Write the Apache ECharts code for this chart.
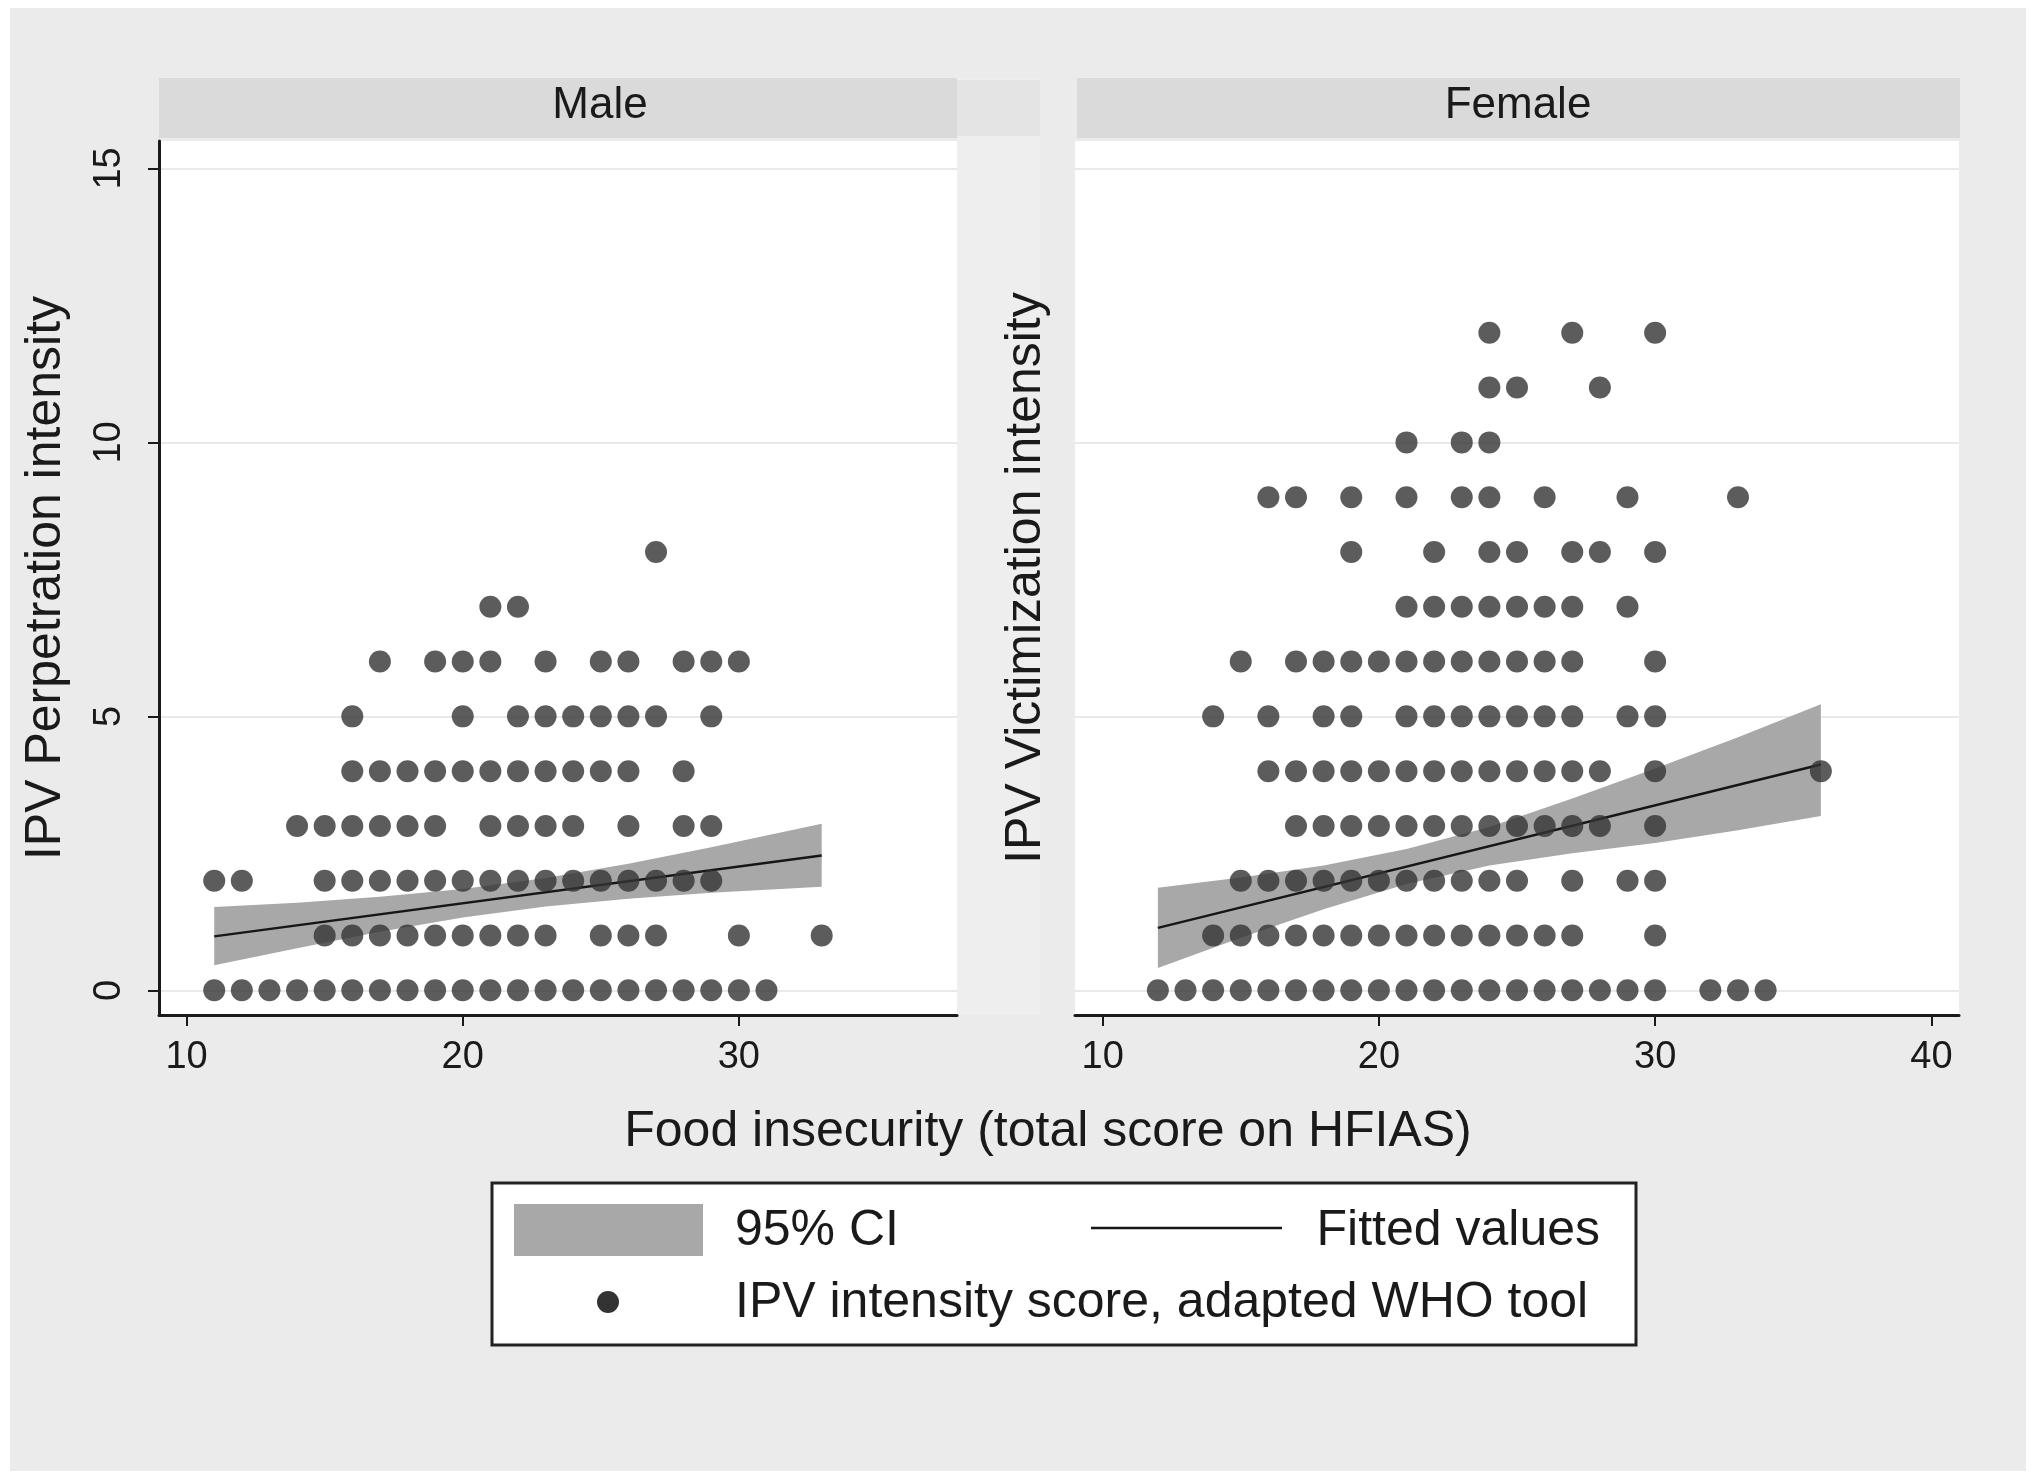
<!DOCTYPE html>
<html><head><meta charset="utf-8">
<script src="https://cdn.jsdelivr.net/npm/echarts@6/dist/echarts.min.js"></script>
<style>html,body{margin:0;padding:0;background:#fff}#c{width:2041px;height:1474px}</style>
</head><body><div id="c"></div>
<script>
// ---------- text ----------
const panelTitles = ['Male', 'Female'];
const yTitles = ['IPV Perpetration intensity', 'IPV Victimization intensity'];
const xTitle = 'Food insecurity (total score on HFIAS)';
const legendLabels = ['95% CI', 'Fitted values', 'IPV intensity score, adapted WHO tool'];

// ---------- ticks ----------
const maleXTicks = [10, 20, 30];
const femaleXTicks = [10, 20, 30, 40];
const yTicks = [0, 5, 10, 15];

// ---------- scatter data: x (HFIAS score) of each point, listed per IPV score 0,1,2,... ----------
const maleX = [
  [11,12,13,14,15,16,17,18,19,20,21,22,23,24,25,26,27,28,29,30,31], // 0
  [15,16,17,18,19,20,21,22,23,25,26,27,30,33],                      // 1
  [11,12,15,16,17,18,19,20,21,22,23,24,25,26,27,28,29],             // 2
  [14,15,16,17,18,19,21,22,23,24,26,28,29],                         // 3
  [16,17,18,19,20,21,22,23,24,25,26,28],                            // 4
  [16,20,22,23,24,25,26,27,29],                                     // 5
  [17,19,20,21,23,25,26,28,29,30],                                  // 6
  [21,22],                                                          // 7
  [27]                                                              // 8
];
const femaleX = [
  [12,13,14,15,16,17,18,19,20,21,22,23,24,25,26,27,28,29,30,32,33,34], // 0
  [14,15,16,17,18,19,20,21,22,23,24,25,26,27,30],                      // 1
  [15,16,17,18,19,20,21,22,23,24,25,27,29,30],                         // 2
  [17,18,19,20,21,22,23,24,25,26,27,28,30],                            // 3
  [16,17,18,19,20,21,22,23,24,25,26,27,28,30,36],                      // 4
  [14,16,18,19,21,22,23,24,25,26,27,29,30],                            // 5
  [15,17,18,19,20,21,22,23,24,25,26,27,30],                            // 6
  [21,22,23,24,25,26,27,29],                                           // 7
  [19,22,24,25,27,28,30],                                              // 8
  [16,17,19,21,23,24,26,29,33],                                        // 9
  [21,23,24],                                                          // 10
  [24,25,28],                                                          // 11
  [24,27,30]                                                           // 12
];

// ---------- fitted lines ----------
const maleFitX = [11, 33];
const maleFitY = [0.985, 2.46];
const femaleFitX = [12, 36];
const femaleFitY = [1.14, 4.12];

// ---------- 95% CI bands ----------
const maleCiX  = [11,   14,   17,   20,   23,   26,   29,   33];
const maleCiLo = [0.46, 0.77, 1.07, 1.33, 1.53, 1.67, 1.78, 1.89];
const maleCiHi = [1.52, 1.60, 1.71, 1.85, 2.05, 2.31, 2.61, 3.04];
const femaleCiX  = [12,   15,   18,   21,   24,   27,   30,   33,   36];
const femaleCiLo = [0.41, 0.96, 1.48, 1.94, 2.28, 2.50, 2.69, 2.92, 3.18];
const femaleCiHi = [1.87, 2.06, 2.28, 2.58, 2.98, 3.50, 4.05, 4.62, 5.22];

// ---------- build ----------
const FONT = '"Liberation Sans", Arial, Helvetica, sans-serif';
const DOT = '#333333', BAND = '#a8a8a8', LINE = '#161616', AX = '#1a1a1a';

function points(rows) {
  const out = [];
  rows.forEach((xs, score) => xs.forEach(x => out.push([x, score])));
  return out;
}
function pairs(xs, ys) { return xs.map((x, i) => [x, ys[i]]); }
function bandData(xs, lo, hi) { return xs.map((x, i) => [x, lo[i], hi[i]]); }
function bandSeries(idx, xs, lo, hi) {
  return {
    type: 'custom', xAxisIndex: idx, yAxisIndex: idx, z: 1, silent: true,
    data: bandData(xs, lo, hi),
    encode: { x: 0, y: [1, 2] },
    renderItem: function (params, api) {
      if (params.dataIndex !== 0) return;
      const up = xs.map((x, i) => api.coord([x, hi[i]]));
      const dn = xs.map((x, i) => api.coord([x, lo[i]])).reverse();
      return { type: 'polygon', shape: { points: up.concat(dn) }, style: { fill: BAND } };
    }
  };
}

const grids = [
  { left: 159, top: 141, width: 798, height: 874 },
  { left: 1075, top: 141, width: 884, height: 874 }
];

function xAxis(idx, min, max, ticks) {
  return {
    type: 'value', gridIndex: idx, min: min, max: max,
    axisLine: { show: true, onZero: false, lineStyle: { color: AX, width: 3 } },
    axisTick: { show: true, inside: false, length: 11, customValues: ticks, lineStyle: { color: AX, width: 2 } },
    axisLabel: { show: true, customValues: ticks, margin: 24, fontSize: 38, color: '#1a1a1a', fontFamily: FONT },
    splitLine: { show: false }
  };
}
function yAxis(idx, showAxis) {
  return {
    type: 'value', gridIndex: idx, min: -0.45, max: 15.5,
    name: yTitles[idx], nameLocation: 'middle', nameRotate: 90,
    nameGap: showAxis ? 88 : 24,
    nameTextStyle: { fontSize: 50, color: '#1a1a1a', fontFamily: FONT },
    axisLine: { show: showAxis, onZero: false, lineStyle: { color: AX, width: 3 } },
    axisTick: { show: showAxis, inside: false, length: 11, customValues: yTicks, lineStyle: { color: AX, width: 2 } },
    axisLabel: { show: showAxis, rotate: 90, customValues: yTicks, margin: 30, fontSize: 38, color: '#1a1a1a', fontFamily: FONT },
    splitLine: { show: true, lineStyle: { color: '#e9e9e9', width: 2 } }
  };
}

const graphic = [
  // outer background
  { type: 'rect', z: -100, shape: { x: 10, y: 8, width: 2016, height: 1463 }, style: { fill: '#ebebeb' } },
  // subtle lighter strip between panels
  { type: 'rect', z: -99, shape: { x: 957, y: 78, width: 83, height: 937 }, style: { fill: '#eeeeee' } },
  // panel headers
  { type: 'rect', z: -98, shape: { x: 159, y: 78, width: 798, height: 60 }, style: { fill: '#dadada' } },
  { type: 'rect', z: -98, shape: { x: 957, y: 80, width: 83, height: 56 }, style: { fill: '#e4e4e4' } },
  { type: 'rect', z: -98, shape: { x: 1077, y: 78, width: 883, height: 60 }, style: { fill: '#dadada' } },
  { type: 'text', z: 10, x: 600, y: 106, style: { text: panelTitles[0], fontSize: 44, fill: '#1a1a1a', font: '44px ' + FONT, textAlign: 'center', textVerticalAlign: 'middle' } },
  { type: 'text', z: 10, x: 1518, y: 106, style: { text: panelTitles[1], fontSize: 44, fill: '#1a1a1a', font: '44px ' + FONT, textAlign: 'center', textVerticalAlign: 'middle' } },
  // x axis title
  { type: 'text', z: 10, x: 1048, y: 1132, style: { text: xTitle, fill: '#1a1a1a', font: '50px ' + FONT, textAlign: 'center', textVerticalAlign: 'middle' } },
  // legend box
  { type: 'rect', z: 10, shape: { x: 492, y: 1183, width: 1144, height: 162 }, style: { fill: '#ffffff', stroke: '#222222', lineWidth: 3 } },
  { type: 'rect', z: 11, shape: { x: 514, y: 1204, width: 189, height: 52 }, style: { fill: BAND } },
  { type: 'text', z: 11, x: 735, y: 1231, style: { text: legendLabels[0], fill: '#1a1a1a', font: '50px ' + FONT, textAlign: 'left', textVerticalAlign: 'middle' } },
  { type: 'line', z: 11, shape: { x1: 1091, y1: 1228, x2: 1282, y2: 1228 }, style: { stroke: LINE, lineWidth: 2.5 } },
  { type: 'text', z: 11, x: 1600, y: 1231, style: { text: legendLabels[1], fill: '#1a1a1a', font: '50px ' + FONT, textAlign: 'right', textVerticalAlign: 'middle' } },
  { type: 'circle', z: 11, shape: { cx: 608, cy: 1302, r: 11 }, style: { fill: DOT } },
  { type: 'text', z: 11, x: 735, y: 1303, style: { text: legendLabels[2], fill: '#1a1a1a', font: '50px ' + FONT, textAlign: 'left', textVerticalAlign: 'middle' } }
];

const option = {
  animation: false,
  backgroundColor: '#ffffff',
  textStyle: { fontFamily: FONT },
  grid: grids.map(g => Object.assign({ show: true, backgroundColor: '#ffffff', borderWidth: 0, containLabel: false }, g)),
  xAxis: [xAxis(0, 9, 37.9, maleXTicks), xAxis(1, 9, 41, femaleXTicks)],
  yAxis: [yAxis(0, true), yAxis(1, false)],
  graphic: graphic,
  series: [
    bandSeries(0, maleCiX, maleCiLo, maleCiHi),
    bandSeries(1, femaleCiX, femaleCiLo, femaleCiHi),
    { type: 'line', xAxisIndex: 0, yAxisIndex: 0, z: 2, data: pairs(maleFitX, maleFitY), showSymbol: false, silent: true, lineStyle: { color: LINE, width: 2.5 } },
    { type: 'line', xAxisIndex: 1, yAxisIndex: 1, z: 2, data: pairs(femaleFitX, femaleFitY), showSymbol: false, silent: true, lineStyle: { color: LINE, width: 2.5 } },
    { type: 'scatter', xAxisIndex: 0, yAxisIndex: 0, z: 3, data: points(maleX), symbol: 'circle', symbolSize: 22, itemStyle: { color: DOT } },
    { type: 'scatter', xAxisIndex: 1, yAxisIndex: 1, z: 3, data: points(femaleX), symbol: 'circle', symbolSize: 22, itemStyle: { color: DOT } }
  ]
};
const chart = echarts.init(document.getElementById('c'), null, { renderer: 'canvas' });
chart.setOption(option);
</script></body></html>
